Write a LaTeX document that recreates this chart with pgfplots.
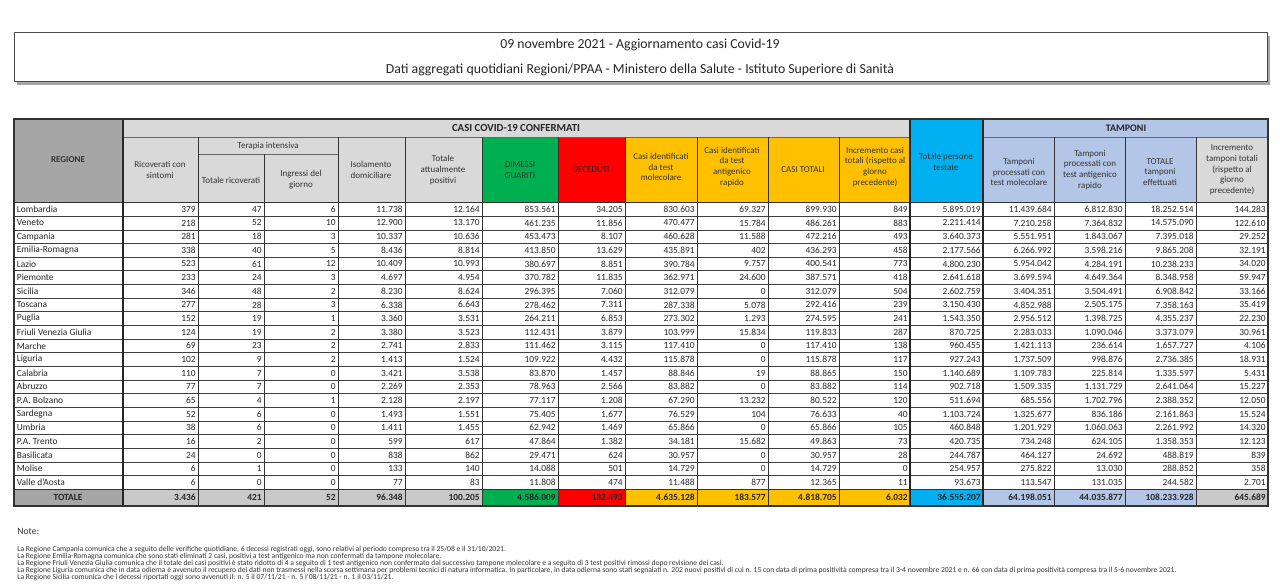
\documentclass[border=0pt]{standalone}
\usepackage{pgfplots}
\pgfplotsset{compat=1.18}
\usepackage{pgfplotstable}
\usepackage{fontspec}
\setmainfont{Carlito}
\definecolor{hgray}{HTML}{D9D9D9}
\definecolor{rgray}{HTML}{A6A6A6}
\definecolor{tgray}{HTML}{C9C9C9}
\definecolor{xgreen}{HTML}{00B050}
\definecolor{xred}{HTML}{FF0000}
\definecolor{xorange}{HTML}{FFC000}
\definecolor{xblue}{HTML}{00B0F0}
\definecolor{lblue}{HTML}{B4C6E7}

\pgfplotstableread[col sep=comma]{
reg,ric,tit,tii,iso,tap,dim,dec,cmol,cant,ctot,icas,pers,tmol,tant,ttot,itam
Lombardia,379,47,6,11.738,12.164,853.561,34.205,830.603,69.327,899.930,849,5.895.019,11.439.684,6.812.830,18.252.514,144.283
Veneto,218,52,10,12.900,13.170,461.235,11.856,470.477,15.784,486.261,883,2.211.414,7.210.258,7.364.832,14.575.090,122.610
Campania,281,18,3,10.337,10.636,453.473,8.107,460.628,11.588,472.216,493,3.640.373,5.551.951,1.843.067,7.395.018,29.252
Emilia-Romagna,338,40,5,8.436,8.814,413.850,13.629,435.891,402,436.293,458,2.177.566,6.266.992,3.598.216,9.865.208,32.191
Lazio,523,61,12,10.409,10.993,380.697,8.851,390.784,9.757,400.541,773,4.800.230,5.954.042,4.284.191,10.238.233,34.020
Piemonte,233,24,3,4.697,4.954,370.782,11.835,362.971,24.600,387.571,418,2.641.618,3.699.594,4.649.364,8.348.958,59.947
Sicilia,346,48,2,8.230,8.624,296.395,7.060,312.079,0,312.079,504,2.602.759,3.404.351,3.504.491,6.908.842,33.166
Toscana,277,28,3,6.338,6.643,278.462,7.311,287.338,5.078,292.416,239,3.150.430,4.852.988,2.505.175,7.358.163,35.419
Puglia,152,19,1,3.360,3.531,264.211,6.853,273.302,1.293,274.595,241,1.543.350,2.956.512,1.398.725,4.355.237,22.230
Friuli Venezia Giulia,124,19,2,3.380,3.523,112.431,3.879,103.999,15.834,119.833,287,870.725,2.283.033,1.090.046,3.373.079,30.961
Marche,69,23,2,2.741,2.833,111.462,3.115,117.410,0,117.410,138,960.455,1.421.113,236.614,1.657.727,4.106
Liguria,102,9,2,1.413,1.524,109.922,4.432,115.878,0,115.878,117,927.243,1.737.509,998.876,2.736.385,18.931
Calabria,110,7,0,3.421,3.538,83.870,1.457,88.846,19,88.865,150,1.140.689,1.109.783,225.814,1.335.597,5.431
Abruzzo,77,7,0,2.269,2.353,78.963,2.566,83.882,0,83.882,114,902.718,1.509.335,1.131.729,2.641.064,15.227
P.A. Bolzano,65,4,1,2.128,2.197,77.117,1.208,67.290,13.232,80.522,120,511.694,685.556,1.702.796,2.388.352,12.050
Sardegna,52,6,0,1.493,1.551,75.405,1.677,76.529,104,76.633,40,1.103.724,1.325.677,836.186,2.161.863,15.524
Umbria,38,6,0,1.411,1.455,62.942,1.469,65.866,0,65.866,105,460.848,1.201.929,1.060.063,2.261.992,14.320
P.A. Trento,16,2,0,599,617,47.864,1.382,34.181,15.682,49.863,73,420.735,734.248,624.105,1.358.353,12.123
Basilicata,24,0,0,838,862,29.471,624,30.957,0,30.957,28,244.787,464.127,24.692,488.819,839
Molise,6,1,0,133,140,14.088,501,14.729,0,14.729,0,254.957,275.822,13.030,288.852,358
Valle d'Aosta,6,0,0,77,83,11.808,474,11.488,877,12.365,11,93.673,113.547,131.035,244.582,2.701
}\regdata

\pgfplotstableread[col sep=comma]{
reg,ric,tit,tii,iso,tap,dim,dec,cmol,cant,ctot,icas,pers,tmol,tant,ttot,itam
TOTALE,3.436,421,52,96.348,100.205,4.586.009,132.493,4.635.128,183.577,4.818.705,6.032,36.555.207,64.198.051,44.035.877,108.233.928,645.689
}\totdata

\pgfplotsset{
  cellval/.style={draw=none, mark=none, nodes near coords, point meta=explicit symbolic,
    nodes near coords style={anchor=east, inner sep=0pt, font=\fontsize{4.7}{5}\selectfont, text=black!85}},
}
\newcommand\col[2]{\addplot[cellval] table[x expr=#1, y expr={209.3+13.65*\coordindex}, meta=#2]{\regdata};}
\newcommand\tcol[2]{\addplot[cellval, nodes near coords style={font=\fontsize{4.7}{5}\selectfont\bfseries}] table[x expr=#1, y expr=497.5, meta=#2]{\totdata};}
\newcommand\hd{\fontsize{4.5}{5.4}\selectfont}

\begin{document}
\begin{tikzpicture}
\begin{axis}[hide axis, scale only axis, width=640pt, height=293.5pt,
  xmin=0, xmax=1280, ymin=0, ymax=587, y dir=reverse, clip=false]
% background
\fill[white] (0,0) rectangle (1280,587);
% title box
\fill[black!35] (17,36) rectangle (1270,85);
\filldraw[fill=white, draw=black!70, line width=0.5pt] (14,33) rectangle (1267,82);
\node[font=\fontsize{6.9}{7.5}\selectfont, text=black!85] at (640,45) {09 novembre 2021 - Aggiornamento casi Covid-19};
\node[font=\fontsize{6.9}{7.5}\selectfont, text=black!85] at (640,70) {Dati aggregati quotidiani Regioni/PPAA - Ministero della Salute - Istituto Superiore di Sanità};
% header fills
\fill[rgray] (14,119) rectangle (123,203);
\fill[hgray] (123,119) rectangle (910,203);
\fill[xgreen] (482,137) rectangle (558,203);
\fill[xred] (558,137) rectangle (625,203);
\fill[xorange] (625,137) rectangle (910,203);
\fill[xblue] (910,119) rectangle (983,203);
\fill[lblue] (983,119) rectangle (1268,203);
\fill[hgray] (1196,137) rectangle (1268,203);
% total row fills
\fill[rgray] (14,489.2) rectangle (123,506);
\fill[tgray] (123,489.2) rectangle (482,506);
\fill[xgreen] (482,489.2) rectangle (558,506);
\fill[xred] (558,489.2) rectangle (625,506);
\fill[xorange] (625,489.2) rectangle (910,506);
\fill[xblue] (910,489.2) rectangle (983,506);
\fill[lblue] (983,489.2) rectangle (1196,506);
\fill[tgray] (1196,489.2) rectangle (1268,506);
% horizontal row lines
\pgfplotsinvokeforeach{1,...,20}{
  \draw[black!75, line width=0.35pt] (14,{202.6+13.65*#1}) -- (1268,{202.6+13.65*#1});
}
\draw[black!80, line width=0.5pt] (14,202.6) -- (1268,202.6);
\draw[black!80, line width=0.5pt] (14,489.2) -- (1268,489.2);
\draw[black!60, line width=0.4pt] (123,137) -- (910,137);
\draw[black!60, line width=0.4pt] (983,137) -- (1268,137);
\draw[black!60, line width=0.4pt] (198,154) -- (338,154);
% vertical lines
\pgfplotsinvokeforeach{198,338,405,482,558,625,697,768,839,1054,1125,1196}{
  \draw[black!80, line width=0.45pt] (#1,137) -- (#1,506);
}
\draw[black!80, line width=0.45pt] (264,154) -- (264,506);
\pgfplotsinvokeforeach{123,910,983}{
  \draw[black!85, line width=0.6pt] (#1,119) -- (#1,506);
}
\draw[black!80, line width=0.7pt] (14,119) rectangle (1268,506);
% header text
\node[font=\hd\bfseries, text=black!80] at (68,160) {REGIONE};
\node[font=\fontsize{5.4}{6}\selectfont\bfseries, text=black!85] at (516,128) {CASI COVID-19 CONFERMATI};
\node[font=\fontsize{5}{6}\selectfont\bfseries, text=black!85] at (1126,128) {TAMPONI};
\node[font=\hd, text=black!80] at (268,146) {Terapia intensiva};
\node[font=\hd, text=black!80, align=center] at (160,170) {Ricoverati con\\sintomi};
\node[font=\hd, text=black!80, align=center] at (231,180) {Totale ricoverati};
\node[font=\hd, text=black!80, align=center] at (301,180) {Ingressi del\\giorno};
\node[font=\hd, text=black!80, align=center] at (371,170) {Isolamento\\domiciliare};
\node[font=\hd, text=black!80, align=center] at (443,170) {Totale\\attualmente\\positivi};
\node[font=\hd, text=black!80, align=center] at (520,170) {DIMESSI\\GUARITI};
\node[font=\hd, text=black!85, align=center] at (591,170) {DECEDUTI};
\node[font=\hd, text=black!80, align=center] at (661,167) {Casi identificati\\da test\\molecolare};
\node[font=\hd, text=black!80, align=center] at (732,167) {Casi identificati\\da test\\antigenico\\rapido};
\node[font=\hd, text=black!80, align=center] at (803,170) {CASI TOTALI};
\node[font=\hd, text=black!80, align=center] at (875,167) {Incremento casi\\totali (rispetto al\\giorno\\precedente)};
\node[font=\hd, text=black!80, align=center] at (946,162) {Totale persone\\testate};
\node[font=\hd, text=black!80, align=center] at (1019,172) {Tamponi\\processati con\\test molecolare};
\node[font=\hd, text=black!80, align=center] at (1090,170) {Tamponi\\processati con\\test antigenico\\rapido};
\node[font=\hd, text=black!80, align=center] at (1160,172) {TOTALE\\tamponi\\effettuati};
\node[font=\hd, text=black!80, align=center] at (1232,170) {Incremento\\tamponi totali\\(rispetto al\\giorno\\precedente)};
% region names
\addplot[cellval, nodes near coords style={anchor=west}] table[x expr=16.5, y expr={209.3+13.65*\coordindex}, meta=reg]{\regdata};
% data columns
\col{196}{ric}
\col{262}{tit}
\col{336}{tii}
\col{403}{iso}
\col{480}{tap}
\col{556}{dim}
\col{623}{dec}
\col{695}{cmol}
\col{766}{cant}
\col{837}{ctot}
\col{908}{icas}
\col{981}{pers}
\col{1052}{tmol}
\col{1123}{tant}
\col{1194}{ttot}
\col{1266}{itam}
% total row
\addplot[cellval, nodes near coords style={anchor=center, font=\fontsize{4.7}{5}\selectfont\bfseries}] table[x expr=68, y expr=497.5, meta=reg]{\totdata};
\tcol{196}{ric}
\tcol{262}{tit}
\tcol{336}{tii}
\tcol{403}{iso}
\tcol{480}{tap}
\tcol{556}{dim}
\tcol{623}{dec}
\tcol{695}{cmol}
\tcol{766}{cant}
\tcol{837}{ctot}
\tcol{908}{icas}
\tcol{981}{pers}
\tcol{1052}{tmol}
\tcol{1123}{tant}
\tcol{1194}{ttot}
\tcol{1266}{itam}
% notes
\node[anchor=west, inner sep=0pt, font=\fontsize{4.8}{5}\selectfont, text=black!80] at (17,531) {Note:};
\begin{scope}[every node/.style={anchor=west, inner sep=0pt, font=\fontsize{3.8}{4}\selectfont, text=black!80}]
\node at (17,549.5) {La Regione Campania comunica che a seguito delle verifiche quotidiane, 6 decessi registrati oggi, sono relativi al periodo compreso tra il 25/08 e il 31/10/2021.};
\node at (17,556.5) {La Regione Emilia-Romagna comunica che sono stati eliminati 2 casi, positivi a test antigenico ma non confermati da tampone molecolare.};
\node at (17,563.5) {La Regione Friuli Venezia Giulia comunica che il totale dei casi positivi è stato ridotto di 4 a seguito di 1 test antigenico non confermato dal successivo tampone molecolare e a seguito di 3 test positivi rimossi dopo revisione dei casi.};
\node at (17,570.5) {La Regione Liguria comunica che in data odierna è avvenuto il recupero dei dati non trasmessi nella scorsa settimana per problemi tecnici di natura informatica. In particolare, in data odierna sono stati segnalati n. 202 nuovi positivi di cui n. 15 con data di prima positività compresa tra il 3-4 novembre 2021 e n. 66 con data di prima positività compresa tra il 5-6 novembre 2021.};
\node at (17,577.5) {La Regione Sicilia comunica che i decessi riportati oggi sono avvenuti il: n. 5 il 07/11/21 - n. 5 l'08/11/21 - n. 1 il 03/11/21.};
\end{scope}
\end{axis}
\end{tikzpicture}
\end{document}
